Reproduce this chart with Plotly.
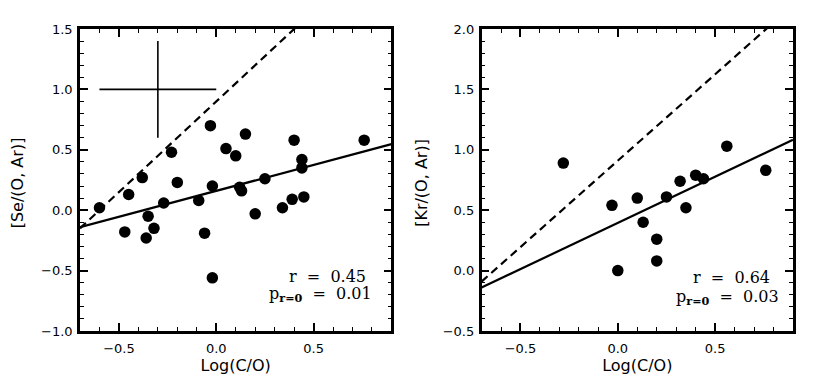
import plotly.graph_objects as go
from plotly.subplots import make_subplots

# Left panel: [Se/(O, Ar)] vs Log(C/O)
se_logco = [-0.60, -0.45, -0.38, -0.23, -0.03, 0.05, -0.20, -0.02, -0.27, -0.09,
            -0.35, -0.32, -0.47, -0.36, -0.06, 0.15, 0.10, 0.40, 0.76, 0.44,
            0.44, 0.25, 0.12, 0.13, 0.20, 0.34, 0.39, 0.45, -0.02]
se_abund = [0.02, 0.13, 0.27, 0.48, 0.70, 0.51, 0.23, 0.20, 0.06, 0.08,
            -0.05, -0.15, -0.18, -0.23, -0.19, 0.63, 0.45, 0.58, 0.58, 0.42,
            0.35, 0.26, 0.19, 0.16, -0.03, 0.02, 0.09, 0.11, -0.56]

# Right panel: [Kr/(O, Ar)] vs Log(C/O)
kr_logco = [-0.28, -0.03, 0.10, 0.00, 0.13, 0.20, 0.20, 0.25, 0.32, 0.35,
            0.40, 0.44, 0.56, 0.76]
kr_abund = [0.89, 0.54, 0.60, 0.00, 0.40, 0.26, 0.08, 0.61, 0.74, 0.52,
            0.79, 0.76, 1.03, 0.83]

# fits: (slope, intercept)
se_fit = (0.43, 0.16)
se_dash = (1.50, 0.90)
kr_fit = (0.765, 0.395)
kr_dash = (1.43, 0.91)

se_stats = ("0.45", "0.01")
kr_stats = ("0.64", "0.03")

# typical error bar (Se panel)
err_x, err_y, err_dx, err_dy = -0.3, 1.0, 0.3, 0.4

x_range = [-0.7, 0.9]

fig = make_subplots(rows=1, cols=2, horizontal_spacing=0.1264)

def add_panel(col, xs, ys, fit, dash):
    fig.add_trace(go.Scatter(x=xs, y=ys, mode="markers",
                             marker=dict(color="black", size=11.5)), row=1, col=col)
    lx = x_range
    fig.add_trace(go.Scatter(x=lx, y=[fit[0] * v + fit[1] for v in lx], mode="lines",
                             line=dict(color="black", width=2.2)), row=1, col=col)
    fig.add_trace(go.Scatter(x=lx, y=[dash[0] * v + dash[1] for v in lx], mode="lines",
                             line=dict(color="black", width=2.2, dash="8px,5px")), row=1, col=col)

add_panel(1, se_logco, se_abund, se_fit, se_dash)
add_panel(2, kr_logco, kr_abund, kr_fit, kr_dash)

fig.add_trace(go.Scatter(x=[err_x], y=[err_y], mode="markers",
                         marker=dict(size=1, color="rgba(0,0,0,0)"),
                         error_x=dict(type="data", array=[err_dx], width=0, thickness=1.6, color="black"),
                         error_y=dict(type="data", array=[err_dy], width=0, thickness=1.6, color="black")),
              row=1, col=1)

lab_font = dict(family="DejaVu Sans", size=13, color="black")
title_font = dict(family="DejaVu Sans", size=16, color="black")

axis_style = dict(showline=True, linewidth=2.5, linecolor="black", mirror="ticks",
                  ticks="inside", ticklen=8, tickwidth=1.5, tickcolor="black",
                  showgrid=False, zeroline=False, tickformat=".1f", dtick=0.5,
                  minor=dict(ticks="inside", ticklen=4, tickwidth=1, tickcolor="black", dtick=0.1),
                  tickfont=lab_font, automargin=False)

for c in (1, 2):
    fig.update_xaxes(range=x_range, tick0=0, ticklabelstandoff=4,
                     title=dict(text="Log(C/O)", standoff=4, font=title_font),
                     row=1, col=c, **axis_style)

fig.update_yaxes(range=[-1.0, 1.5], tick0=0, row=1, col=1, ticklabelstandoff=2, **axis_style)
fig.update_yaxes(range=[-0.5, 2.0], tick0=0, row=1, col=2, ticklabelstandoff=2, **axis_style)

# y-axis titles placed in paper coordinates
for txt, px in (("[Se/(O, Ar)]", -0.088), ("[Kr/(O, Ar)]", 0.478)):
    fig.add_annotation(x=px, y=0.49, xref="paper", yref="paper", text=txt,
                       textangle=-90, showarrow=False, xanchor="center",
                       yanchor="middle", font=title_font)

txt_font = dict(family="DejaVu Serif", size=16, color="black")
for ref, stats, pos in (("", se_stats, (0.78, -0.55, 0.81, -0.70)),
                        ("2", kr_stats, (0.79, -0.06, 0.84, -0.22))):
    fig.add_annotation(x=pos[0], y=pos[1], xref="x" + ref, yref="y" + ref,
                       text="r  =  " + stats[0], showarrow=False, xanchor="right",
                       yanchor="middle", font=txt_font)
    fig.add_annotation(x=pos[2], y=pos[3], xref="x" + ref, yref="y" + ref,
                       text="p<sub><b>r=0</b></sub>  =  " + stats[1], showarrow=False,
                       xanchor="right", yanchor="middle", font=txt_font)

# page body adds an 8px offset, so margins are shifted to compensate
fig.update_layout(width=830, height=386, showlegend=False,
                  margin=dict(l=72, r=45, t=21, b=63),
                  plot_bgcolor="white", paper_bgcolor="white")

fig.write_html("out.html")
